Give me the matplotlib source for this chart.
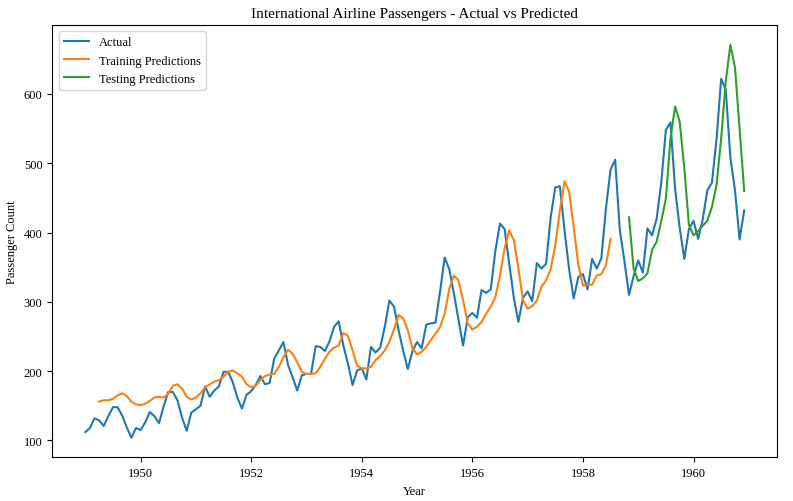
import numpy as np
import matplotlib
matplotlib.use("Agg")
import matplotlib.pyplot as plt

plt.rcParams['font.family'] = ['Liberation Serif', 'DejaVu Serif']

# monthly airline passengers, 1949-01 .. 1960-12
actual = [
    112, 118, 132, 129, 121, 135, 148, 148, 136, 119, 104, 118,
    115, 126, 141, 135, 125, 149, 170, 170, 158, 133, 114, 140,
    145, 150, 178, 163, 172, 178, 199, 199, 184, 162, 146, 166,
    171, 180, 193, 181, 183, 218, 230, 242, 209, 191, 172, 194,
    196, 196, 236, 235, 229, 243, 264, 272, 237, 211, 180, 201,
    204, 188, 235, 227, 234, 264, 302, 293, 259, 229, 203, 229,
    242, 233, 267, 269, 270, 315, 364, 347, 312, 274, 237, 278,
    284, 277, 317, 313, 318, 374, 413, 405, 355, 306, 271, 306,
    315, 301, 356, 348, 355, 422, 465, 467, 404, 347, 305, 336,
    340, 318, 362, 348, 363, 435, 491, 505, 404, 359, 310, 337,
    360, 342, 406, 396, 420, 472, 548, 559, 463, 407, 362, 405,
    417, 391, 419, 461, 472, 535, 622, 606, 508, 461, 390, 432,
]

# training predictions start at month index 3
train_start = 3
train_pred = [
    156, 158, 158, 160, 165, 168, 164, 156, 152,
    151, 153, 157, 162, 163, 162, 167, 179, 181, 175, 163, 159,
    162, 168, 177, 181, 185, 187, 192, 199, 201, 197, 192, 181,
    177, 179, 187, 193, 195, 196, 206, 220, 231, 225, 213, 199,
    196, 196, 197, 206, 218, 228, 234, 237, 255, 251, 230, 208,
    204, 204, 206, 216, 222, 230, 242, 261, 281, 276, 259, 233,
    224, 228, 235, 245, 254, 264, 283, 319, 338, 331, 302, 269,
    260, 264, 271, 283, 293, 307, 338, 377, 403, 389, 348, 302,
    290, 294, 302, 322, 331, 347, 382, 432, 474, 459, 408, 353,
    324, 324, 325, 338, 340, 353, 391,
]

# testing predictions start at month index 118
test_start = 118
test_pred = [
    422, 348, 330, 334, 341, 375, 387, 416, 449, 536, 582, 560,
    493, 411, 396, 402, 410, 417, 437, 469, 536, 618, 671, 638,
    550, 460,
]

years = 1949 + np.arange(len(actual)) / 12
train_x = years[train_start:train_start + len(train_pred)]
test_x = years[test_start:test_start + len(test_pred)]

fig, ax = plt.subplots(figsize=(7.93, 5.02), dpi=100)
fig.subplots_adjust(left=0.066, right=0.98, bottom=0.087, top=0.948)

ax.plot(years, actual, label='Actual')
ax.plot(train_x, train_pred, label='Training Predictions')
ax.plot(test_x, test_pred, label='Testing Predictions')

ax.set_xticks([1950, 1952, 1954, 1956, 1958, 1960])
ax.tick_params(labelsize=9)
ax.set_title('International Airline Passengers - Actual vs Predicted', fontsize=11)
ax.set_xlabel('Year', fontsize=9)
ax.set_ylabel('Passenger Count', fontsize=9)
ax.legend(loc='upper left', fontsize=9)

plt.savefig('out.png')
